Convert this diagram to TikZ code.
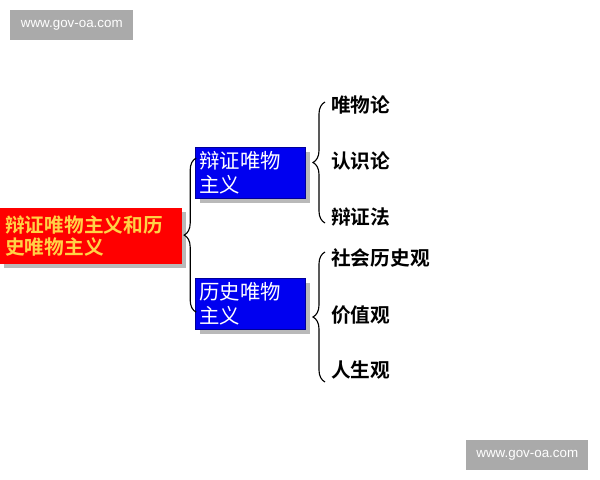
\documentclass[tikz,border=0pt]{standalone}
\usepackage{fontspec}
\setsansfont{Liberation Sans}
\newfontfamily\cjk{Noto Sans CJK SC}[BoldFont={Noto Sans CJK SC Bold}]
\usetikzlibrary{positioning,decorations.pathreplacing,shadows}

\definecolor{boxred}{RGB}{255,0,0}
\definecolor{boxblue}{RGB}{0,0,240}
\definecolor{goldtext}{RGB}{255,210,70}
\definecolor{markgray}{RGB}{170,170,170}

\tikzset{
  markbox/.style={fill=markgray, text=white, font=\sffamily\fontsize{9.5}{11}\selectfont,
    minimum width=3.075cm, minimum height=0.75cm, inner sep=0pt, anchor=north west},
  topicbox/.style={fill=boxred, text=goldtext, font=\cjk\bfseries\fontsize{14}{15.5}\selectfont,
    minimum width=4.55cm, minimum height=1.4cm, text width=4.3cm, align=left,
    inner sep=0.12cm, anchor=north west,
    drop shadow={shadow xshift=0.1cm, shadow yshift=-0.1cm, fill=gray!55, opacity=1}},
  partbox/.style={fill=boxblue, draw=blue!60!black, text=white, font=\cjk\fontsize{14.5}{17}\selectfont,
    minimum width=2.75cm, minimum height=1.2cm, text width=2.55cm, align=left,
    inner sep=0.1cm, anchor=north west,
    drop shadow={shadow xshift=0.12cm, shadow yshift=-0.12cm, fill=gray!55, opacity=1}},
  item/.style={font=\cjk\bfseries\fontsize{14}{16}\selectfont, inner sep=0pt, anchor=west},
  bracket/.style={decorate, decoration={brace, amplitude=0.3cm}, thick}
}

\begin{document}
\begin{tikzpicture}[x=0.025cm, y=-0.025cm]
    \useasboundingbox (0,0) rectangle (600,480);
    \fill[white] (0,0) rectangle (600,480);

    % Watermarks
    \node[markbox] (mtop) at (10,10) {www.gov-oa.com};
    \node[markbox, minimum width=3.05cm] (mbot) at (466,440) {www.gov-oa.com};

    % Main topic
    \node[topicbox] (dlz) at (0,208) {辩证唯物主义和历\\史唯物主义};

    % Two parts
    \node[partbox] (bzw) at (195,147) {辩证唯物\\主义};
    \node[partbox] (lsw) at (195,278) {历史唯物\\主义};

    % Items of the first part
    \node[item] (wwl) at (331,105) {唯物论};
    \node[item] (rsl) at (331,161) {认识论};
    \node[item] (bzf) at (331,217) {辩证法};

    % Items of the second part
    \node[item] (shl) at (331,258) {社会历史观};
    \node[item] (jzg) at (331,315) {价值观};
    \node[item] (rsg) at (331,370) {人生观};

    % Braces
    \draw[bracket] ([xshift=0.03cm, yshift=0.425cm]lsw.south west) -- ([xshift=0.03cm, yshift=-0.275cm]bzw.north west);
    \draw[bracket] ([xshift=-0.15cm, yshift=-0.15cm]bzf.west) -- ([xshift=-0.15cm, yshift=0.075cm]wwl.west);
    \draw[bracket] ([xshift=-0.15cm, yshift=-0.3cm]rsg.west) -- ([xshift=-0.15cm, yshift=0.15cm]shl.west);
\end{tikzpicture}
\end{document}
